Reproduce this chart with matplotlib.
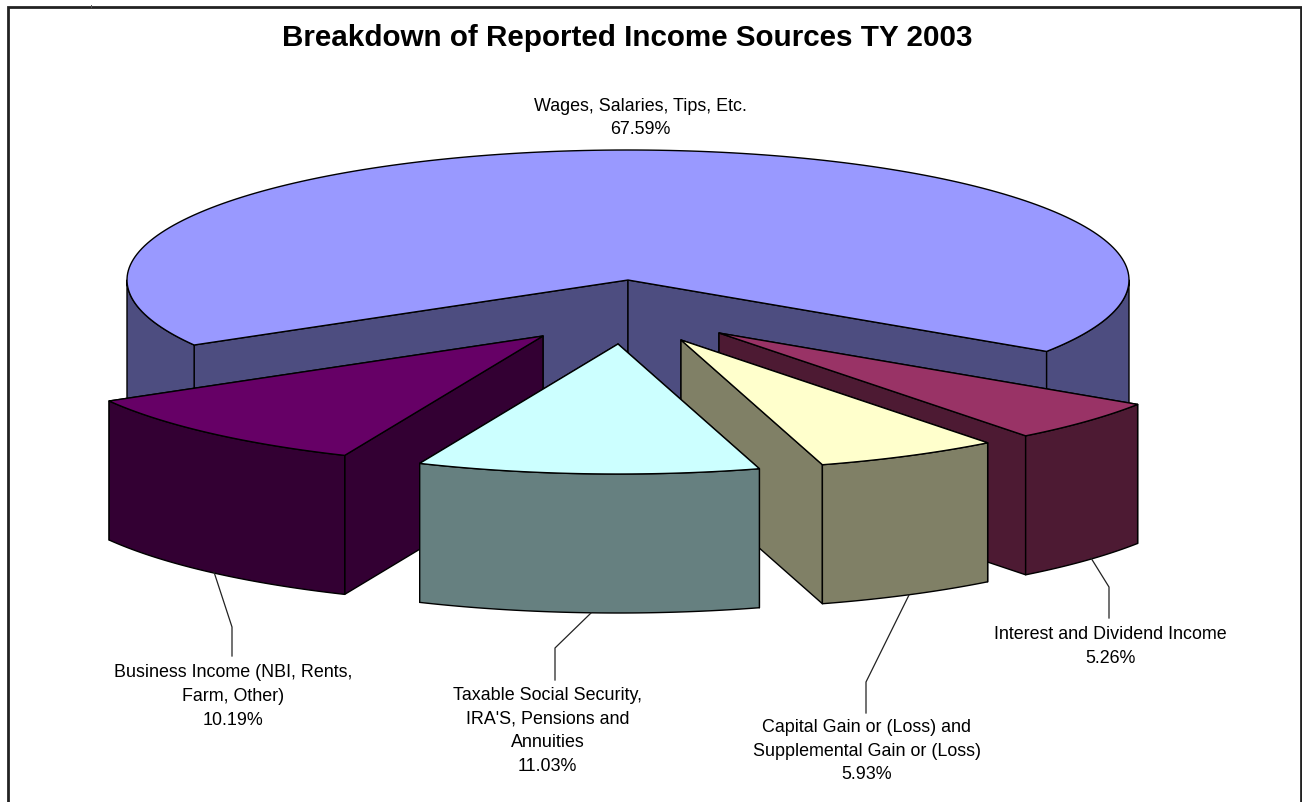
import numpy as np
import matplotlib
matplotlib.use("Agg")
import matplotlib.pyplot as plt
from matplotlib.patches import Polygon

# ---- data ----
categories = ["Wages, Salaries, Tips, Etc.", "Interest and Dividend Income",
              "Capital Gain or (Loss) and\nSupplemental Gain or (Loss)",
              "Taxable Social Security,\nIRA'S, Pensions and\nAnnuities",
              "Business Income (NBI, Rents,\nFarm, Other)"]
shares = [67.59, 5.26, 5.93, 11.03, 10.19]
percent_labels = ["67.59%", "5.26%", "5.93%", "11.03%", "10.19%"]
title = "Breakdown of Reported Income Sources TY 2003"

# ---- style / layout ----
top_colors = ["#9999FF", "#993366", "#FFFFCC", "#CCFFFF", "#660066"]
side_colors = ["#4D4D80", "#4D1A33", "#808066", "#668080", "#330033"]
explode_dx = [0, 91, 53, -10, -85]
explode_dy = [0, 53, 60, 64, 56]
draw_order = [0, 1, 2, 4, 3]
CX, CY, RX, RY, DEPTH = 628, 280, 501, 130, 139
START_DEG = 210.0
label_pos = [(640, 118), (1110, 646.5), (867, 751), (547.5, 731), (233, 696.5)]
leaders = [None,
           [(1091, 558), (1109, 587), (1109, 618)],
           [(909, 595), (866, 682), (866, 713)],
           [(591, 613), (555, 648), (555, 680)],
           [(214, 572), (232, 627), (232, 656)]]
EDGE_LW = 1.0
FONT = "Liberation Sans"

fig = plt.figure(figsize=(13.02, 8.02), dpi=100, facecolor="white")
ax = fig.add_axes([0, 0, 1, 1])
ax.set_xlim(0, 1302)
ax.set_ylim(802, 0)
ax.axis("off")

# chart frame: open at the bottom edge of the picture
ax.plot([8, 8, 1301, 1301], [810, 7, 7, 810], color="#222222", lw=2.0, zorder=1,
        solid_joinstyle="miter")
ax.plot([91, 91], [5, 7], color="#555555", lw=0.7, zorder=1)

sweeps = np.array(shares) / sum(shares) * 360.0
ends = START_DEG - np.cumsum(sweeps)
starts = ends + sweeps


def arc(t0, t1, cx, cy, n=200):
    t = np.radians(np.linspace(t0, t1, n))
    return np.column_stack([cx + RX * np.cos(t), cy - RY * np.sin(t)])


def add_poly(pts, color, z):
    ax.add_patch(Polygon(pts, closed=True, facecolor=color, edgecolor="black",
                         lw=EDGE_LW, joinstyle="round", zorder=z))


z = 2
for i in draw_order:
    cx, cy = CX + explode_dx[i], CY + explode_dy[i]
    t_hi, t_lo = starts[i], ends[i]
    apex = np.array([cx, cy])

    # the two radial walls, the one nearer the viewer last
    radials = sorted([t_hi, t_lo], key=lambda a: abs(np.sin(np.radians(a))))
    for a in radials:
        p = arc(a, a, cx, cy, 1)[0]
        add_poly([apex, p, p + [0, DEPTH], apex + [0, DEPTH]], side_colors[i], z)
        z += 1

    # rim: only the parts of the arc on the near half of the ellipse
    spans = []
    for k in (-360, 0):
        lo, hi = max(t_lo, 180 + k), min(t_hi, 360 + k)
        if lo < hi:
            spans.append((lo, hi))
    for lo, hi in spans:
        a_pts = arc(lo, hi, cx, cy)
        add_poly(np.vstack([a_pts, a_pts[::-1] + [0, DEPTH]]), side_colors[i], z)
        z += 1

    # top face
    add_poly(np.vstack([[apex], arc(t_lo, t_hi, cx, cy)]), top_colors[i], z)
    z += 1

# leader lines
for pts in leaders:
    if pts:
        xs, ys = zip(*pts)
        ax.plot(xs, ys, color="#222222", lw=0.9, zorder=z)

# labels
for (x, y), name, pct in zip(label_pos, categories, percent_labels):
    ax.text(x, y, f"{name}\n{pct}", ha="center", va="center", family=FONT,
            fontsize=12.9, linespacing=1.53, color="black", zorder=z + 1)

ax.text(627, 38, title, ha="center", va="center", family=FONT, fontsize=21.35,
        fontweight="bold", color="black", zorder=z + 1)

fig.savefig("out.png", dpi=100, facecolor="white")
